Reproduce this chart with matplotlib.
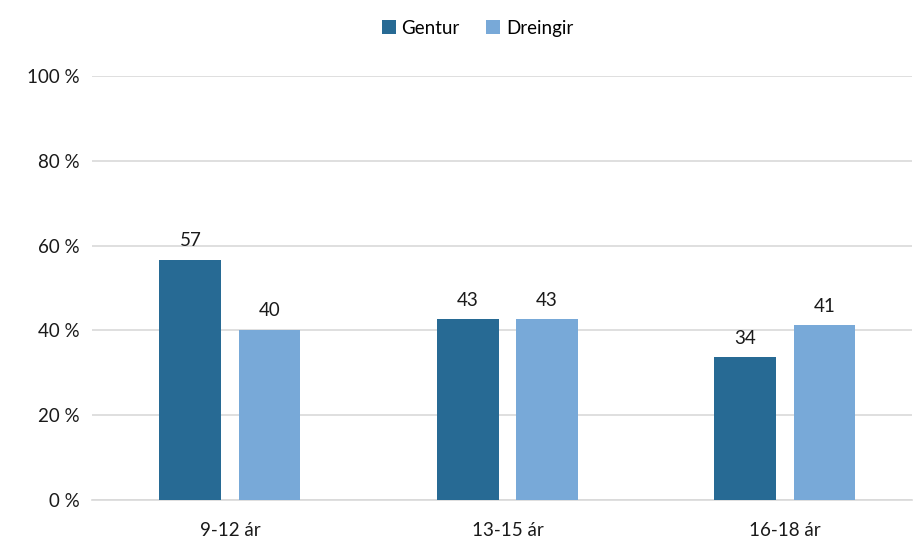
import matplotlib.pyplot as plt
import numpy as np

plt.rcParams['font.family'] = ['Lato', 'DejaVu Sans']

age_groups = ['9-12 ár', '13-15 ár', '16-18 ár']
gentur = [56.7, 42.6, 33.8]
dreingir = [40.2, 42.7, 41.2]
yticks = [0, 20, 40, 60, 80, 100]

dark = '#276A94'
light = '#78A9D8'

fig = plt.figure(figsize=(9.13, 5.41), dpi=100)
ax = fig.add_axes([92 / 913, 41 / 541, 820 / 913, 424 / 541])

x = np.arange(len(age_groups))
w = 0.223
gap = 0.031
b1 = ax.bar(x - w / 2 - gap, gentur, w, color=dark, label='Gentur', zorder=3)
b2 = ax.bar(x + w / 2 + gap, dreingir, w, color=light, label='Dreingir', zorder=3)

for bars, vals in ((b1, gentur), (b2, dreingir)):
    for bar, v in zip(bars, vals):
        ax.text(bar.get_x() + bar.get_width() / 2, v + 2.4, f'{v:.0f}',
                ha='center', va='bottom', fontsize=13.5, color='#1a1a1a')

ax.set_xlim(-0.497, 2.458)
ax.set_ylim(0, 100)
ax.set_yticks(yticks)
ax.set_yticklabels([f'{t} %' for t in yticks])
ax.set_xticks(x)
ax.set_xticklabels(age_groups)
ax.tick_params(axis='both', length=0, labelsize=13.5, colors='#1a1a1a')
ax.tick_params(axis='y', pad=9)
ax.tick_params(axis='x', pad=16)
ax.grid(axis='y', color='#D9D9D9', linewidth=1.2, zorder=0)
for s in ['top', 'right', 'left']:
    ax.spines[s].set_visible(False)
ax.spines['bottom'].set_color('#D9D9D9')
ax.spines['bottom'].set_linewidth(1.2)

fig.legend(loc='upper center', bbox_to_anchor=(0.523, 0.995), ncol=2, frameon=False,
           fontsize=13.5, handlelength=0.75, handleheight=0.75, handletextpad=0.3,
           columnspacing=1.4)

fig.savefig('out.png', dpi=100)
